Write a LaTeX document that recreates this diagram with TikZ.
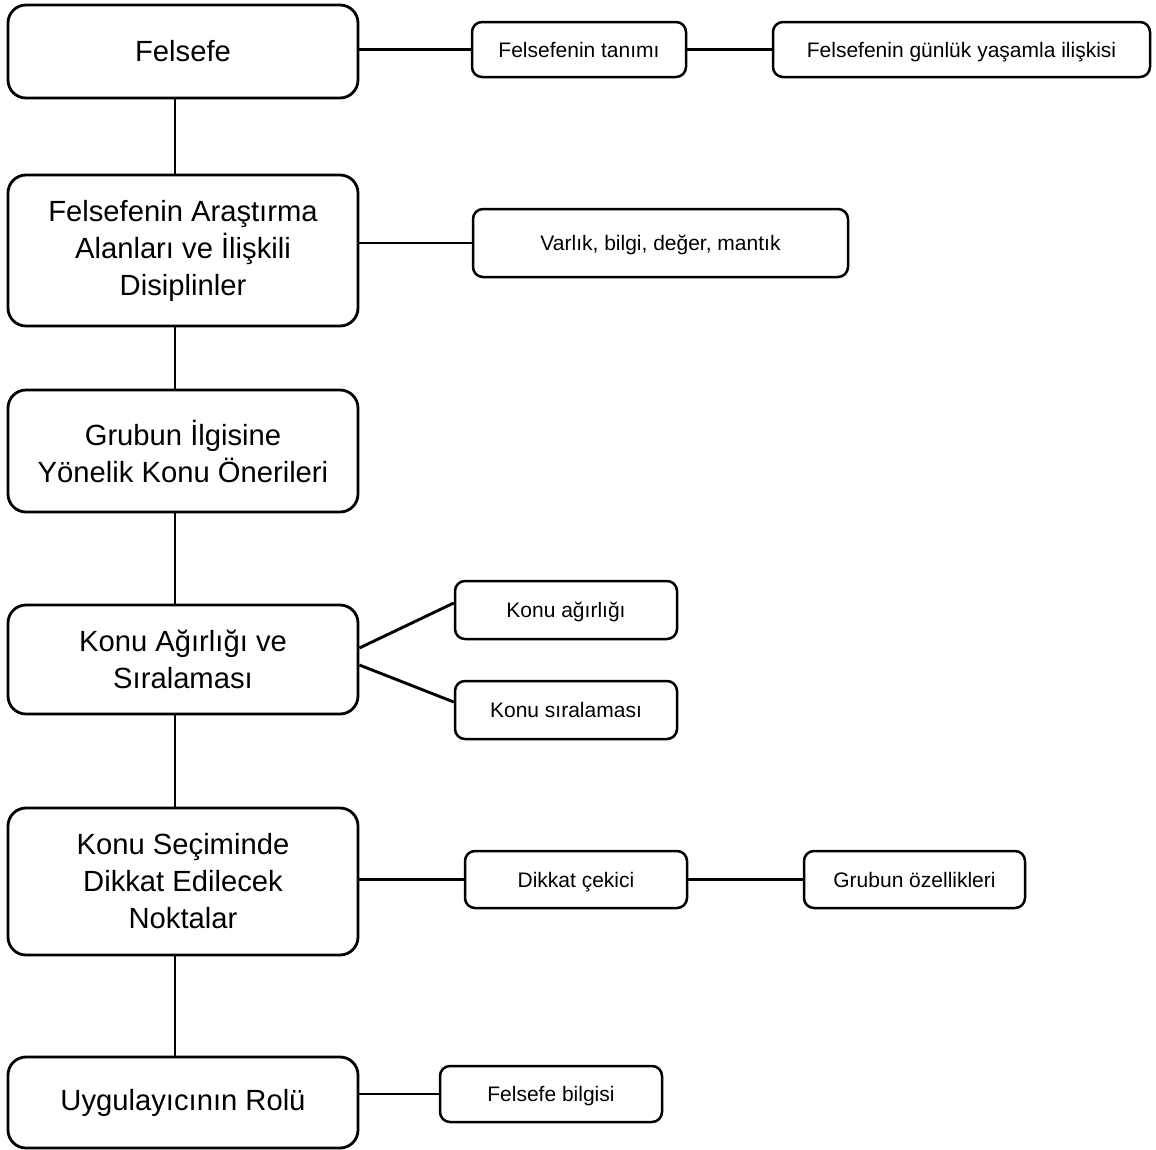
\documentclass[tikz,border=0pt]{standalone}
\usepackage{fontspec}
\setmainfont{Liberation Sans}
\usetikzlibrary{calc}
\begin{document}
\begin{tikzpicture}[x=1pt,y=-1pt,
  mainbox/.style={draw, line width=2.8pt, rounded corners=18pt, minimum width=350pt,
    align=center, font=\fontsize{29.2}{37}\selectfont, inner sep=0pt},
  subbox/.style={draw, line width=2.5pt, rounded corners=10pt, minimum width=222pt,
    minimum height=57pt, align=center, font=\fontsize{21}{25}\selectfont, inner sep=0pt,
    text height=15pt, text depth=0pt},
  link/.style={line width=2.9pt}]
\useasboundingbox (0,0) rectangle (1156,1149);

% main column
\node[mainbox, minimum height=93pt]  (felsefe) at (183,51.5)  {Felsefe};
\node[mainbox, minimum height=151pt] (alanlar) at (183,250.5) {Felsefenin Araştırma\\Alanları ve İlişkili\\Disiplinler};
\node[mainbox, minimum height=122pt] (oneri)   at (183,451)   {Grubun İlgisine\\Yönelik Konu Önerileri};
\node[mainbox, minimum height=109pt] (sira)    at (183,659.5) {Konu Ağırlığı ve\\Sıralaması};
\node[mainbox, minimum height=147pt] (secim)   at (183,881.5) {Konu Seçiminde\\Dikkat Edilecek\\Noktalar};
\node[mainbox, minimum height=91pt]  (rol)     at (183,1102.5){Uygulayıcının Rolü};

% side boxes
\node[subbox, minimum width=214pt, minimum height=55pt] (tanim)  at (579,49.5)   {Felsefenin tanımı};
\node[subbox, minimum width=377pt, minimum height=55pt] (gunluk) at (961.5,49.5) {Felsefenin günlük yaşamla ilişkisi};
\node[subbox, minimum width=375pt, minimum height=68pt] (varlik) at (660.5,243)  {Varlık, bilgi, değer, mantık};
\node[subbox, minimum height=58pt] (agirlik)  at (566,610)    {Konu ağırlığı};
\node[subbox, minimum height=58pt] (siralama) at (566,710)    {Konu sıralaması};
\node[subbox] (dikkat)                        at (576,879.5)  {Dikkat çekici};
\node[subbox, minimum width=221pt] (ozellik)  at (914.5,879.5){Grubun özellikleri};
\node[subbox, minimum height=56pt] (bilgi)    at (551,1094)   {Felsefe bilgisi};

% vertical spine
\draw[link] ([xshift=-8pt]felsefe.south) -- ([xshift=-8pt]alanlar.north);
\draw[link] ([xshift=-8pt]alanlar.south) -- ([xshift=-8pt]oneri.north);
\draw[link] ([xshift=-8pt]oneri.south)   -- ([xshift=-8pt]sira.north);
\draw[link] ([xshift=-8pt]sira.south)    -- ([xshift=-8pt]secim.north);
\draw[link] ([xshift=-8pt]secim.south)   -- ([xshift=-8pt]rol.north);

% branches
\draw[link] (felsefe.east |- tanim.west) -- (tanim.west);
\draw[link] (tanim) -- (gunluk);
\draw[link] (alanlar.east |- varlik.west) -- (varlik.west);
\draw[link] ([yshift=11.5pt]sira.east) -- ([yshift=7pt]agirlik.west);
\draw[link] ([yshift=-5.5pt]sira.east) -- ([yshift=8pt]siralama.west);
\draw[link] (secim.east |- dikkat.west) -- (dikkat.west);
\draw[link] (dikkat) -- (ozellik);
\draw[link] (rol.east |- bilgi.west) -- (bilgi.west);
\end{tikzpicture}
\end{document}
